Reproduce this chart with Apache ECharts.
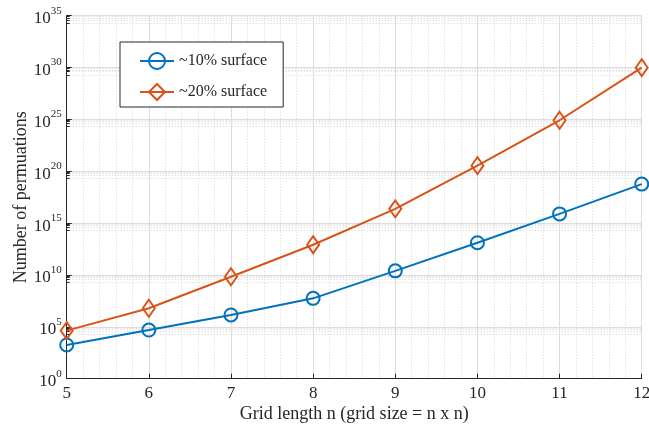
<!DOCTYPE html>
<html>
<head>
<meta charset="utf-8">
<script src="https://cdn.jsdelivr.net/npm/echarts@6/dist/echarts.min.js"></script>
<style>
  html, body { margin: 0; padding: 0; background: #fff; }
  #chart { width: 649px; height: 424px; }
</style>
</head>
<body>
<div id="chart"></div>
<script>
// Grid length n (grid is n x n cells)
const gridLengths = [5, 6, 7, 8, 9, 10, 11, 12];

// Number of permutations when ~10% of the grid is surface
const surface10 = [1.8e3, 4.9e4, 1.4e6, 5.6e7, 2.5e10, 1.3e13, 7.8e15, 5.8e18];

// Number of permutations when ~20% of the grid is surface
const surface20 = [4.3e4, 6.2e6, 6.8e9, 8.3e12, 2.4e16, 3.5e20, 8.3e24, 9.8e29];

const seriesNames = ['~10% surface', '~20% surface'];

const FONT = '"Liberation Serif", "DejaVu Serif", serif';
const INK = '#262626';
const BLUE = '#0072BD';
const ORANGE = '#D95319';

const chart = echarts.init(document.getElementById('chart'), null, { renderer: 'canvas' });

const toPairs = (ys) => gridLengths.map((n, i) => [n, ys[i]]);

chart.setOption({
  animation: false,
  backgroundColor: '#fff',
  textStyle: { fontFamily: FONT, color: INK },
  grid: {
    left: 66.7, right: 7.3, top: 15.7, bottom: 45.3,
    containLabel: false,
    outerBoundsMode: 'none'
  },
  legend: {
    orient: 'vertical',
    left: 120,
    top: 42,
    padding: [10, 16, 6, 19],
    itemGap: 13,
    itemWidth: 34,
    itemHeight: 20,
    backgroundColor: '#fff',
    borderColor: INK,
    borderWidth: 1,
    borderRadius: 0,
    textStyle: { fontFamily: FONT, fontSize: 16, color: INK },
    data: seriesNames
  },
  xAxis: {
    type: 'value',
    min: 5,
    max: 12,
    interval: 1,
    name: 'Grid length n (grid size = n x n)',
    nameLocation: 'middle',
    nameGap: 27,
    nameMoveOverlap: false,
    nameTextStyle: { fontFamily: FONT, fontSize: 18, color: INK },
    axisLine: { show: true, lineStyle: { color: INK, width: 1 } },
    axisTick: { show: true, inside: true, length: 5, lineStyle: { color: INK } },
    axisLabel: { fontFamily: FONT, fontSize: 17, color: INK, margin: 6 },
    splitLine: { show: true, lineStyle: { color: '#dcdcdc', width: 1 } },
    minorTick: { show: false, splitNumber: 5 },
    minorSplitLine: { show: true, lineStyle: { color: '#d6d6d6', width: 1, type: [1, 2] } }
  },
  yAxis: {
    type: 'log',
    logBase: 10,
    min: 1,
    max: 1e35,
    interval: 5,
    name: 'Number of permuations',
    nameLocation: 'middle',
    nameGap: 36,
    nameMoveOverlap: false,
    nameRotate: 90,
    nameTextStyle: { fontFamily: FONT, fontSize: 18, color: INK },
    axisLine: { show: true, lineStyle: { color: INK, width: 1 } },
    axisTick: { show: true, inside: true, length: 5, lineStyle: { color: INK } },
    minorTick: { show: true, splitNumber: 5, length: 3, lineStyle: { color: INK } },
    axisLabel: {
      margin: 5,
      formatter: (v) => '{b|10}{s|' + Math.round(Math.log10(v)) + '}',
      rich: {
        b: { fontFamily: FONT, fontSize: 17, color: INK, padding: [6, 0, 0, 0] },
        s: { fontFamily: FONT, fontSize: 11, color: INK, padding: [0, 0, 10, 0] }
      }
    },
    splitLine: { show: true, lineStyle: { color: '#dcdcdc', width: 1 } },
    minorSplitLine: { show: true, lineStyle: { color: '#d6d6d6', width: 1, type: [1, 2] } }
  },
  series: [
    {
      name: seriesNames[0],
      type: 'line',
      data: toPairs(surface10),
      symbol: 'circle',
      symbolSize: 13,
      showAllSymbol: true,
      lineStyle: { color: BLUE, width: 2 },
      itemStyle: { color: 'rgba(255,255,255,0)', borderColor: BLUE, borderWidth: 2 },
      emphasis: { disabled: true },
      z: 3
    },
    {
      name: seriesNames[1],
      type: 'line',
      data: toPairs(surface20),
      symbol: 'diamond',
      symbolSize: [12, 17],
      showAllSymbol: true,
      lineStyle: { color: ORANGE, width: 2 },
      itemStyle: { color: 'rgba(255,255,255,0)', borderColor: ORANGE, borderWidth: 2 },
      emphasis: { disabled: true },
      z: 3
    }
  ]
});
</script>
</body>
</html>
